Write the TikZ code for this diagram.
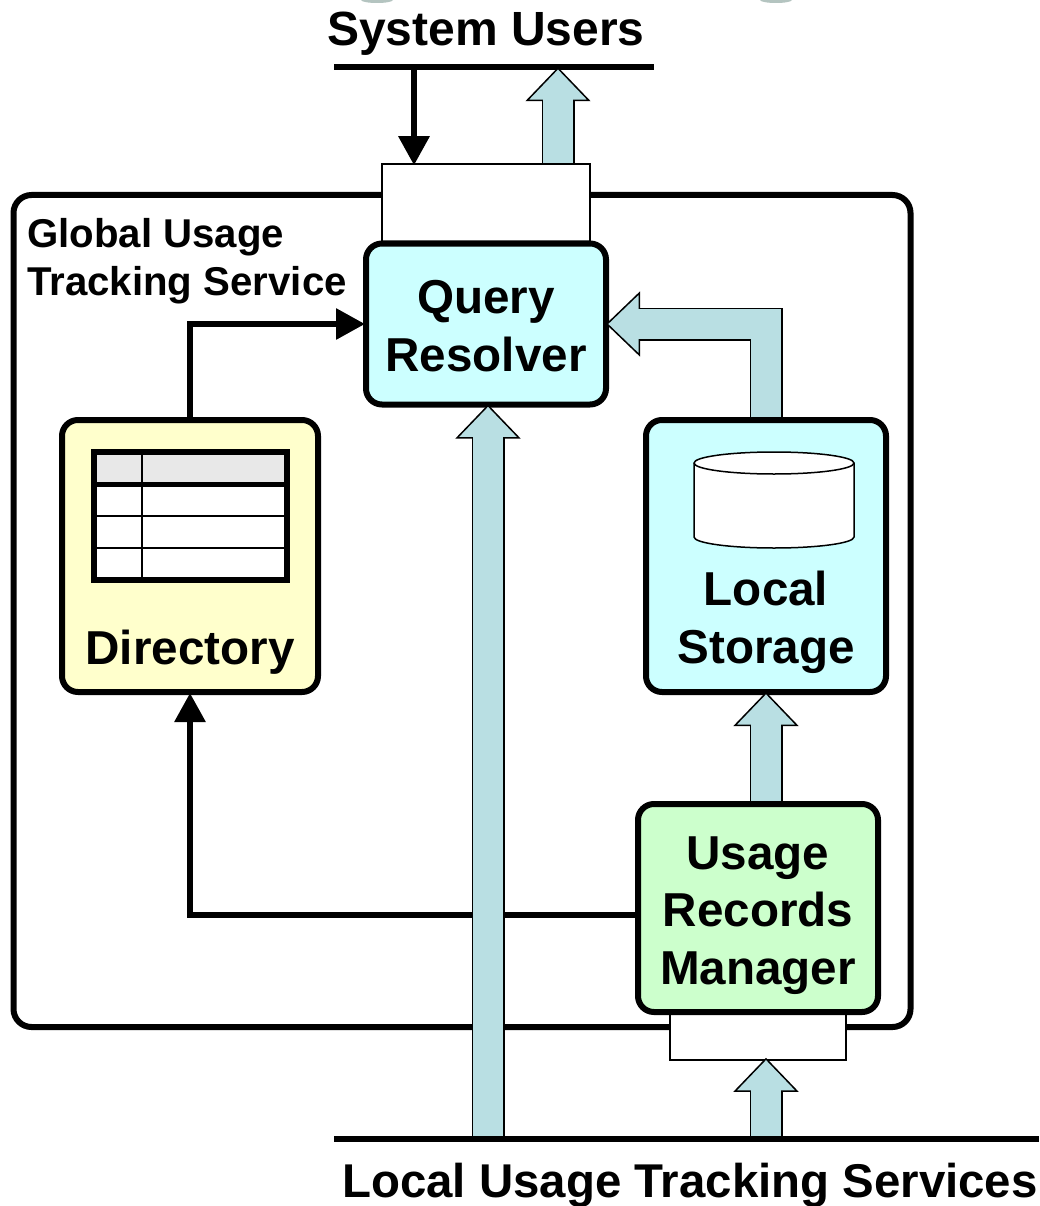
\documentclass[tikz,border=0pt]{standalone}
\usepackage{fontspec}
\setmainfont{Liberation Sans}
\usetikzlibrary{arrows.meta,shapes.geometric}
\definecolor{flowblue}{HTML}{B9DFE3}
\definecolor{querycyan}{HTML}{CCFFFF}
\definecolor{diryellow}{HTML}{FFFFCC}
\definecolor{usagegreen}{HTML}{CCFFCC}
\definecolor{headgray}{HTML}{E8E8E8}
\definecolor{markgray}{HTML}{B4C4C0}
\begin{document}
\begin{tikzpicture}[x=1pt,y=-1pt,
modulebox/.style={draw,line width=6pt,rounded corners=16pt,align=center,font=\bfseries\fontsize{47.6}{57.5}\selectfont,inner sep=0pt},
portbox/.style={draw,fill=white,line width=1.5pt,inner sep=0pt},
busline/.style={fill=black,inner sep=0pt,minimum height=6pt},
buslabel/.style={font=\bfseries\fontsize{#1}{57}\selectfont,inner sep=0pt},
topmark/.style={ellipse,fill=markgray,minimum width=32pt,minimum height=6pt,inner sep=0pt},
ctrl/.style={line width=6pt,shorten >=-2pt,-{Triangle[length=29pt,width=30pt]}},
flow/.style={preaction={draw=black,line width=33pt,shorten >=-3pt,-{Triangle[length=34pt,width=65pt,line width=1.5pt,fill=flowblue,color=black]}},draw=flowblue,line width=30pt,shorten >=28pt}]
    \useasboundingbox (0,0) rectangle (1039,1206);
    \node [topmark] (markleft) at (377,0) {};
    \node [topmark] (markright) at (776,0) {};
    \node [draw,line width=6pt,rounded corners=18pt,minimum width=897pt,minimum height=832pt,inner sep=0pt] (service) at (462,611) {};
    \node [anchor=north west,align=left,inner sep=0pt,font=\bfseries\fontsize{40.2}{48}\selectfont] (servicelabel) at (27,218) {Global Usage\\Tracking Service};
    \node [portbox,minimum width=208pt,minimum height=80pt] (queryport) at (486,204) {};
    \node [portbox,minimum width=176pt,minimum height=50pt] (recordsport) at (758,1035) {};
    \node [modulebox,fill=querycyan,minimum width=240pt,minimum height=161pt,text height=95pt] (resolver) at (486,324) {Query\\Resolver};
    \node [modulebox,fill=diryellow,minimum width=256pt,minimum height=272pt,text height=226pt] (directory) at (190,556) {Directory};
    \node [modulebox,fill=querycyan,minimum width=240pt,minimum height=272pt,text height=225pt] (storage) at (766,556) {Local\\Storage};
    \node [modulebox,fill=usagegreen,minimum width=240pt,minimum height=208pt,text height=163pt] (usage) at (758,908) {Usage\\Records\\Manager};
    \draw [fill=white,line width=1.5pt] (694,463) -- (694,537) arc[start angle=180,end angle=360,x radius=80pt,y radius=11pt] -- (854,463) arc[start angle=0,end angle=180,x radius=80pt,y radius=11pt] -- cycle;
    \draw [line width=1.5pt] (694,463) arc[start angle=180,end angle=360,x radius=80pt,y radius=11pt];
    \node [fill=headgray,minimum width=193pt,minimum height=32pt,inner sep=0pt] (tablehead) at (190.5,468) {};
    \node [fill=white,minimum width=193pt,minimum height=96pt,inner sep=0pt] (tablerows) at (190.5,532) {};
    \node [draw,line width=6pt,minimum width=193pt,minimum height=128pt,inner sep=0pt] (dirtable) at (190.5,516) {};
    \draw [line width=5pt] (dirtable.west |- tablehead.south) -- (dirtable.east |- tablehead.south);
    \foreach \y in {516,548}
        \draw [line width=2pt] (94,\y) -- (287,\y);
    \draw [line width=2pt] (142,452) -- (142,580);
    \node [busline,minimum width=320pt] (usersbus) at (494,67) {};
    \node [busline,minimum width=705pt] (localbus) at (686.5,1139) {};
    \node [buslabel=48,anchor=base] (userslabel) at (486,46) {System Users};
    \node [buslabel=47.4,anchor=base west] (locallabel) at (342,1197) {Local Usage Tracking Services};
    \coordinate (userdrop) at (414,0);
    \coordinate (userrise) at (558,0);
    \coordinate (feedback) at (766,324);
    \coordinate (localrise) at (488,0);
    \coordinate (recordrise) at (766,0);
    \coordinate (recordrow) at (0,915);
    \draw [ctrl] (usersbus.south -| userdrop) -- (queryport.north -| userdrop);
    \draw [ctrl] (directory.north) |- (resolver.west |- feedback);
    \draw [ctrl] (usage.west |- recordrow) -| (directory.south);
    \draw [flow] (queryport.north -| userrise) -- (usersbus.south -| userrise);
    \draw [flow] (storage.north -| feedback) |- (resolver.east |- feedback);
    \draw [flow] (localbus.north -| localrise) -- (resolver.south -| localrise);
    \draw [flow] (usage.north -| recordrise) -- (storage.south -| recordrise);
    \draw [flow] (localbus.north -| recordrise) -- (recordsport.south -| recordrise);
\end{tikzpicture}
\end{document}
